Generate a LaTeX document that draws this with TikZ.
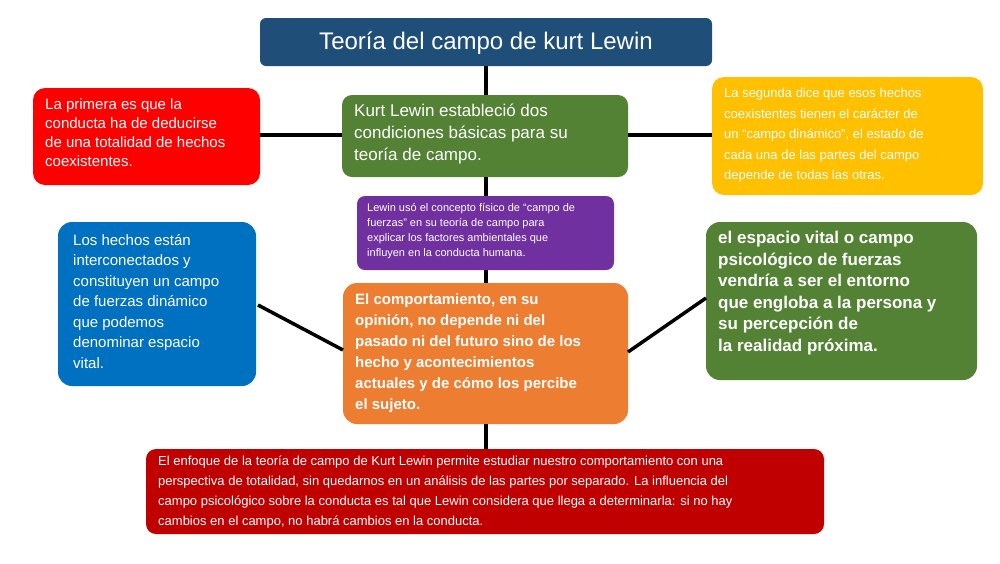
\documentclass[tikz,border=0pt]{standalone}
\usepackage{fontspec}
\setmainfont{Liberation Sans}
\definecolor{cTitle}{HTML}{1F4E79}
\definecolor{cGreen}{HTML}{548235}
\definecolor{cYellow}{HTML}{FFC000}
\definecolor{cPurple}{HTML}{7030A0}
\definecolor{cBlue}{HTML}{0070C0}
\definecolor{cOrange}{HTML}{ED7D31}
\definecolor{cDred}{HTML}{C00000}
\begin{document}
\begin{tikzpicture}[x=1pt,y=-1pt,
 box/.style={rounded corners=10pt,text=white,align=left,anchor=north west,inner sep=0pt},
 conn/.style={line width=3.5pt,black}]
\useasboundingbox (0,0) rectangle (1000,563);
% boxes
\fill[cTitle,rounded corners=6pt] (260,18) rectangle (712,66);
\node[text=white,font=\fontsize{24}{28}\selectfont] (title) at (486,43) {Teoría del campo de kurt Lewin};
\coordinate (titleb) at (486,66);

\fill[red,rounded corners=12pt] (33,88) rectangle (260,185);
\coordinate (redr) at (260,135);
\node[box,font=\fontsize{15}{19}\selectfont] (redt) at (45,98) {La primera es que la\\conducta ha de deducirse\\de una totalidad de hechos\\coexistentes.};

\fill[cGreen,rounded corners=10pt] (342,95) rectangle (628,177);
\coordinate (gl) at (342,135); \coordinate (gr) at (628,135);
\coordinate (gt) at (486,95); \coordinate (gb) at (486,177);
\node[box,font=\fontsize{17}{22}\selectfont] (gtt) at (354,104) {Kurt Lewin estableció dos\\condiciones básicas para su\\teoría de campo.};

\fill[cYellow,rounded corners=12pt] (712,77) rectangle (983,195);
\coordinate (yl) at (712,135);
\node[box,font=\fontsize{13}{20.5}\selectfont] (yt) at (724,88) {La segunda dice que esos hechos\\coexistentes tienen el carácter de\\un “campo dinámico”, el estado de\\cada una de las partes del campo\\depende de todas las otras.};

\fill[cPurple,rounded corners=8pt] (357,196) rectangle (614,270);
\coordinate (pt) at (486,196); \coordinate (pb) at (486,270);
\node[box,font=\fontsize{11}{15}\selectfont] (ptt) at (367,203) {Lewin usó el concepto físico de “campo de\\fuerzas”  en su teoría de campo para\\explicar los factores ambientales que\\influyen en la conducta humana.};

\fill[cBlue,rounded corners=14pt] (58,222) rectangle (256,386);
\coordinate (br) at (258,305);
\node[box,font=\fontsize{15}{20.5}\selectfont] (bt) at (73,234) {Los hechos están\\interconectados y\\constituyen un campo\\de fuerzas dinámico\\que podemos\\denominar espacio\\vital.};

\fill[cOrange,rounded corners=14pt] (343,283) rectangle (628,424);
\coordinate (ot) at (486,283); \coordinate (ob) at (486,424);
\coordinate (ol) at (343,350); \coordinate (or) at (628,352);
\node[box,font=\bfseries\fontsize{15}{21}\selectfont] (ott) at (355,293) {El comportamiento, en su\\opinión, no depende ni del\\pasado ni del futuro sino de los\\hecho y acontecimientos\\actuales y de cómo los percibe\\el sujeto.};

\fill[cGreen,rounded corners=14pt] (706,222) rectangle (977,380);
\coordinate (rl) at (706,298);
\node[box,font=\bfseries\fontsize{17}{21.5}\selectfont] (rt) at (718,231) {el espacio vital o campo\\psicológico de fuerzas\\vendría a ser el entorno\\que engloba a la persona y\\su percepción de\\la realidad próxima.};

\fill[cDred,rounded corners=10pt] (146,449) rectangle (824,534);
\coordinate (dt) at (486,449);
\node[box,font=\fontsize{13}{20}\selectfont] (dtt) at (158,456) {El enfoque de la teoría de campo de Kurt Lewin permite estudiar nuestro comportamiento con una\\perspectiva de totalidad, sin quedarnos en un análisis de las partes por separado. La influencia del\\campo psicológico sobre la conducta es tal que Lewin considera que llega a determinarla: si no hay\\cambios en el campo, no habrá cambios en la conducta.};

% connectors
\draw[conn] (titleb) -- (gt);
\draw[conn] (gb) -- (pt);
\draw[conn] (pb) -- (ot);
\draw[conn] (ob) -- (dt);
\draw[conn] (redr) -- (gl);
\draw[conn] (gr) -- (yl);
\draw[conn] (br) -- (ol);
\draw[conn] (or) -- (rl);
\end{tikzpicture}
\end{document}
